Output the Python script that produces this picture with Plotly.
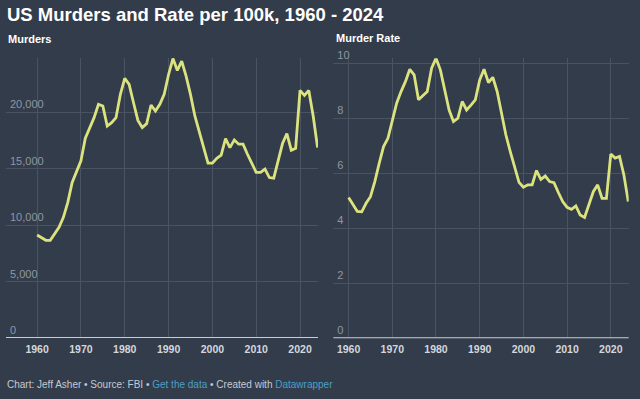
import plotly.graph_objects as go

years = list(range(1960, 2025))
murders = [9110, 8850, 8650, 8640, 9260, 9800, 10680, 12000, 13760, 14650,
           15680, 17680, 18560, 19500, 20680, 20530, 18760, 19060, 19500, 21560,
           22970, 22440, 20820, 19260, 18620, 18970, 20620, 20090, 20680, 21560,
           23320, 24730, 23680, 24500, 23180, 21560, 19650, 18180, 16850, 15470,
           15470, 15900, 16180, 17650, 16850, 17530, 17150, 17150, 16260, 15380,
           14650, 14650, 14940, 14200, 14150, 15680, 17210, 18090, 16620, 16790,
           21910, 21470, 21910, 19650, 16850]
rate = [5.12, 4.85, 4.61, 4.60, 4.91, 5.15, 5.70, 6.36, 6.97, 7.27,
        7.94, 8.55, 8.97, 9.33, 9.78, 9.58, 8.67, 8.81, 8.97, 9.82,
        10.18, 9.76, 9.03, 8.30, 7.88, 8.00, 8.61, 8.30, 8.48, 8.67,
        9.39, 9.78, 9.30, 9.49, 8.97, 8.18, 7.39, 6.79, 6.24, 5.67,
        5.49, 5.58, 5.58, 6.10, 5.78, 5.90, 5.70, 5.66, 5.30, 4.97,
        4.76, 4.69, 4.81, 4.48, 4.39, 4.85, 5.33, 5.58, 5.09, 5.09,
        6.70, 6.55, 6.61, 5.94, 4.97]
decade_ticks = [1960, 1970, 1980, 1990, 2000, 2010, 2020]
murder_ticks = [0, 5000, 10000, 15000, 20000]
murder_labels = ["0", "5,000", "10,000", "15,000", "20,000"]
rate_ticks = [0, 2, 4, 6, 8, 10]
rate_labels = ["0", "2", "4", "6", "8", "10"]

W, H = 640, 399
BG = "#333c4b"
GRID = "#4a5361"
LINE = "#dbe37f"
FONT = "Liberation Sans, Arial, sans-serif"

def px(x):
    return x / W

def py(y):
    return 1 - y / H

MUR_RANGE = [0, 24780]
RATE_RANGE = [0, 10.18]

fig = go.Figure()
# transparent carrier traces so the label-only overlay axes get drawn
fig.add_trace(go.Scatter(x=years, y=murders, mode="lines", xaxis="x", yaxis="y3",
                         opacity=0, line=dict(width=0), showlegend=False, hoverinfo="skip"))
fig.add_trace(go.Scatter(x=years, y=rate, mode="lines", xaxis="x2", yaxis="y4",
                         opacity=0, line=dict(width=0), showlegend=False, hoverinfo="skip"))
fig.add_trace(go.Scatter(x=years, y=murders, mode="lines", xaxis="x", yaxis="y",
                         line=dict(color=LINE, width=2.8), showlegend=False,
                         hoverinfo="skip"))
fig.add_trace(go.Scatter(x=years, y=rate, mode="lines", xaxis="x2", yaxis="y2",
                         line=dict(color=LINE, width=2.8), showlegend=False,
                         hoverinfo="skip"))

xcommon = dict(tickvals=decade_ticks, ticktext=[f"<b>{t}</b>" for t in decade_ticks],
               showgrid=True, gridcolor=GRID, gridwidth=1, automargin=False,
               zeroline=False, showline=False, ticks="", fixedrange=True,
               ticklabelstandoff=3,
               tickfont=dict(family=FONT, size=10.5, color="#d4d7dc"))
ygrid = dict(showgrid=True, gridcolor=GRID, gridwidth=1, zeroline=False, automargin=False,
             showline=False, ticks="", showticklabels=False, fixedrange=True)
ylab = dict(showgrid=False, zeroline=False, showline=False, ticks="", automargin=False,
            ticklabelposition="inside top", ticklabeloverflow="allow",
            fixedrange=True, anchor="free",
            tickfont=dict(family=FONT, size=11, color="#8f97a3"))

fig.update_layout(
    width=W, height=H,
    paper_bgcolor=BG, plot_bgcolor=BG,
    margin=dict(l=0, r=0, t=0, b=0, pad=0, autoexpand=False),
    xaxis=dict(domain=[px(6), px(318)], range=[1952.9, 2024.1], anchor="y", **xcommon),
    yaxis=dict(domain=[py(338), py(58)], range=MUR_RANGE, anchor="x",
               tickvals=murder_ticks, **ygrid),
    yaxis3=dict(overlaying="y", position=px(6), range=MUR_RANGE,
                tickvals=murder_ticks, ticktext=murder_labels, **ylab),
    xaxis2=dict(domain=[px(333.3), px(628.7)], range=[1956.5, 2024.1], anchor="y2", **xcommon),
    yaxis2=dict(domain=[py(338.3), py(58.3)], range=RATE_RANGE, anchor="x2",
                tickvals=rate_ticks, **ygrid),
    yaxis4=dict(overlaying="y2", position=px(333.3), range=RATE_RANGE,
                tickvals=rate_ticks, ticktext=rate_labels, **ylab),
    shapes=[
        dict(type="line", xref="x domain", yref="y", x0=0, x1=1, y0=0, y1=0,
             line=dict(color="#c9cdd3", width=2)),
        dict(type="line", xref="x2 domain", yref="y2", x0=0, x1=1, y0=0, y1=0,
             line=dict(color="#c9cdd3", width=2)),
    ],
    annotations=[
        dict(text="<b>US Murders and Rate per 100k, 1960 - 2024</b>", x=px(5), y=py(14),
             xref="paper", yref="paper", xanchor="left", yanchor="middle", showarrow=False,
             font=dict(family=FONT, size=18.5, color="#ffffff")),
        dict(text="<b>Murders</b>", x=px(6), y=py(39), xref="paper", yref="paper",
             xanchor="left", yanchor="middle", showarrow=False,
             font=dict(family=FONT, size=11, color="#ffffff")),
        dict(text="<b>Murder Rate</b>", x=px(334), y=py(38), xref="paper", yref="paper",
             xanchor="left", yanchor="middle", showarrow=False,
             font=dict(family=FONT, size=11, color="#ffffff")),
        dict(text="Chart: Jeff Asher • Source: FBI • <span style='color:#4aa0c6'>Get the data</span>"
                  " • Created with <span style='color:#4aa0c6'>Datawrapper</span>",
             x=px(5), y=py(384), xref="paper", yref="paper",
             xanchor="left", yanchor="middle", showarrow=False,
             font=dict(family=FONT, size=10, color="#c5cad1")),
    ],
)

fig.write_html("out.html", config={"displayModeBar": False, "staticPlot": True})
with open("out.html", "r", encoding="utf-8") as f:
    html = f.read()
html = html.replace("<head>", "<head><style>html,body{margin:0;padding:0;background:%s;}</style>" % BG, 1)
with open("out.html", "w", encoding="utf-8") as f:
    f.write(html)
